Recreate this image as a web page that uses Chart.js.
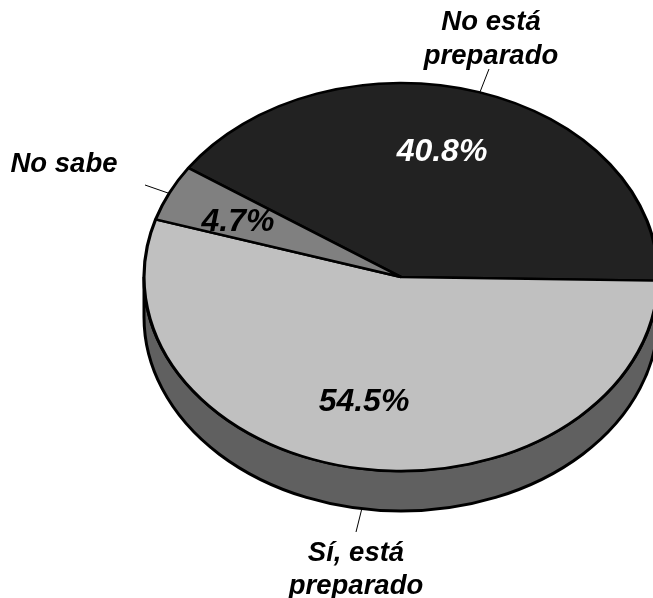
<!DOCTYPE html>
<html>
<head>
<meta charset="utf-8">
<script src="https://cdn.jsdelivr.net/npm/chart.js@4"></script>
<style>
  body { margin: 0; background: #fff; }
  #wrap { width: 653px; height: 598px; overflow: hidden; }
</style>
</head>
<body>
<div id="wrap"><canvas id="chart1" width="653" height="598"></canvas></div>
<script>
let categories = ['No está preparado', 'Sí, está preparado', 'No sabe'];
let values = [40.8, 54.5, 4.7];
let valueLabels = ['40.8%', '54.5%', '4.7%'];
let sliceColors = ['#222222', '#c0c0c0', '#808080'];

// pie tilt
let squash = 0.755;
let depth = 40;
let wallColor = '#606060';

let valueSpots = [[442, 152, '#ffffff'], [364, 402, '#000000'], [238, 222, '#000000']];
let nameSpots = [
  [[491, 22, 'No está'], [491, 56, 'preparado']],
  [[356, 553, 'Sí, está'], [356, 586, 'preparado']],
  [[64, 164, 'No sabe']]
];
let leaders = [[489, 69, 480, 92], [362, 508, 356, 532], [145, 185, 168, 193]];

let tiltPlugin = {
  id: 'tilt',
  beforeDatasetsDraw(chart) {
    let ctx = chart.ctx;
    let arc = chart.getDatasetMeta(0).data[0];
    let rx = arc.outerRadius;
    let ry = rx * squash;

    // side wall
    ctx.save();
    ctx.beginPath();
    ctx.ellipse(arc.x, arc.y, rx, ry, 0, 0, Math.PI);
    ctx.ellipse(arc.x, arc.y + depth, rx, ry, 0, Math.PI, 0, true);
    ctx.closePath();
    ctx.fillStyle = wallColor;
    ctx.fill();
    ctx.lineWidth = 3;
    ctx.strokeStyle = '#000';
    ctx.stroke();
    ctx.restore();

    ctx.save();
    ctx.translate(arc.x, arc.y);
    ctx.scale(1, squash);
    ctx.translate(-arc.x, -arc.y);
  },
  afterDatasetsDraw(chart) {
    let ctx = chart.ctx;
    ctx.restore();

    ctx.save();
    ctx.strokeStyle = '#000';
    ctx.lineWidth = 1;
    leaders.forEach(l => {
      ctx.beginPath();
      ctx.moveTo(l[0], l[1]);
      ctx.lineTo(l[2], l[3]);
      ctx.stroke();
    });

    ctx.textAlign = 'center';
    ctx.textBaseline = 'middle';
    ctx.font = 'italic bold 32px "Liberation Sans"';
    valueLabels.forEach((t, i) => {
      ctx.fillStyle = valueSpots[i][2];
      ctx.fillText(t, valueSpots[i][0], valueSpots[i][1]);
    });
    ctx.font = 'italic bold 27.5px "Liberation Sans"';
    ctx.fillStyle = '#000';
    nameSpots.forEach(lines => {
      lines.forEach(s => ctx.fillText(s[2], s[0], s[1]));
    });
    ctx.restore();
  }
};

let chart1 = new Chart(document.getElementById('chart1'), {
  type: 'pie',
  data: {
    labels: categories,
    datasets: [{
      data: values,
      backgroundColor: sliceColors,
      borderColor: '#000',
      borderWidth: 3.2,
      clip: false
    }]
  },
  options: {
    responsive: false,
    animation: false,
    rotation: -55.8,
    radius: 257,
    layout: {
      padding: { left: 149, bottom: 44 }
    },
    plugins: {
      legend: { display: false },
      tooltip: { enabled: false }
    }
  },
  plugins: [tiltPlugin]
});
</script>
</body>
</html>
